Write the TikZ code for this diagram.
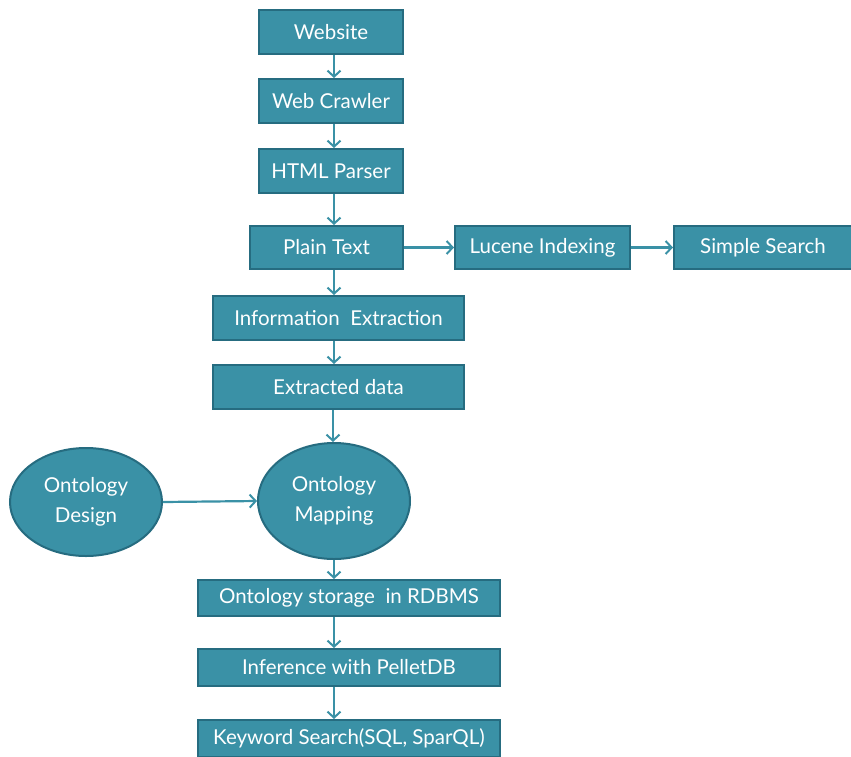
\documentclass[tikz,border=0pt]{standalone}
\usepackage{fontspec}
\setmainfont{Lato}
\usetikzlibrary{arrows.meta,shapes.geometric,calc}
\definecolor{tealfill}{RGB}{58,145,166}
\definecolor{tealedge}{RGB}{38,108,128}
\definecolor{tealarrow}{RGB}{58,145,166}
\tikzset{
  boxnode/.style={rectangle, draw=tealedge, fill=tealfill, line width=2pt, text=white, inner sep=0pt, font=\fontsize{20.5}{24}\selectfont},
  ellnode/.style={ellipse, draw=tealedge, fill=tealfill, line width=2pt, text=white, inner sep=0pt, align=center, font=\fontsize{20.5}{30}\selectfont},
  arr/.style={draw=tealarrow, line width=2.2pt, -{Straight Barb[length=6pt,width=13pt,line width=2pt]}}
}
\begin{document}
\begin{tikzpicture}[x=1pt,y=-1pt]
\useasboundingbox (0,0) rectangle (851,756);
\begin{scope}
\clip (0,0) rectangle (851,756);
\node[boxnode, minimum width=144pt, minimum height=44pt] (web) at (331,32) {Website};
\node[boxnode, minimum width=144pt, minimum height=44pt] (crawl) at (331,101) {Web Crawler};
\node[boxnode, minimum width=144pt, minimum height=44pt] (html) at (331,171) {HTML Parser};
\node[boxnode, minimum width=153pt, minimum height=43pt] (plain) at (326.5,247.5) {Plain Text};
\node[boxnode, minimum width=175pt, minimum height=43pt] (lucene) at (542.5,247.5) {Lucene Indexing};
\node[boxnode, minimum width=178pt, minimum height=43pt] (simple) at (763,247.5) {Simple Search};
\node[boxnode, minimum width=251pt, minimum height=44pt] (info) at (338.5,318) {Information~ Extraction};
\node[boxnode, minimum width=251pt, minimum height=44pt] (extr) at (338.5,387) {Extracted data};
\node[ellnode, minimum width=152pt, minimum height=108pt] (odes) at (86,502) {Ontology\\Design};
\node[ellnode, minimum width=152pt, minimum height=116pt] (omap) at (334,501) {Ontology\\Mapping};
\node[boxnode, minimum width=302pt, minimum height=36pt] (store) at (349,598) {Ontology storage~ in RDBMS};
\node[boxnode, minimum width=302pt, minimum height=37pt] (infer) at (349,667.5) {Inference with PelletDB};
\node[boxnode, minimum width=302pt, minimum height=37pt] (kw) at (349,738.5) {Keyword Search(SQL, SparQL)};
\coordinate (col) at (334,0);
\coordinate (col2) at (333,0);
\end{scope}
\draw[arr] (web.south -| col) -- (crawl.north -| col);
\draw[arr] (crawl.south -| col) -- (html.north -| col);
\draw[arr] (html.south -| col) -- (plain.north -| col);
\draw[arr] (plain.south -| col) -- (info.north -| col);
\draw[arr] (info.south -| col) -- (extr.north -| col);
\draw[arr] (extr.south -| col2) -- (omap.north -| col2);
\draw[arr] (omap.south) -- (store.north -| omap.south);
\draw[arr] (store.south -| col) -- (infer.north -| col);
\draw[arr] (infer.south -| col) -- (kw.north -| col);
\draw[arr] (plain.east) -- (lucene.west);
\draw[arr] (lucene.east) -- (simple.west);
\draw[arr] (odes.east) -- (omap.west);
\end{tikzpicture}
\end{document}
